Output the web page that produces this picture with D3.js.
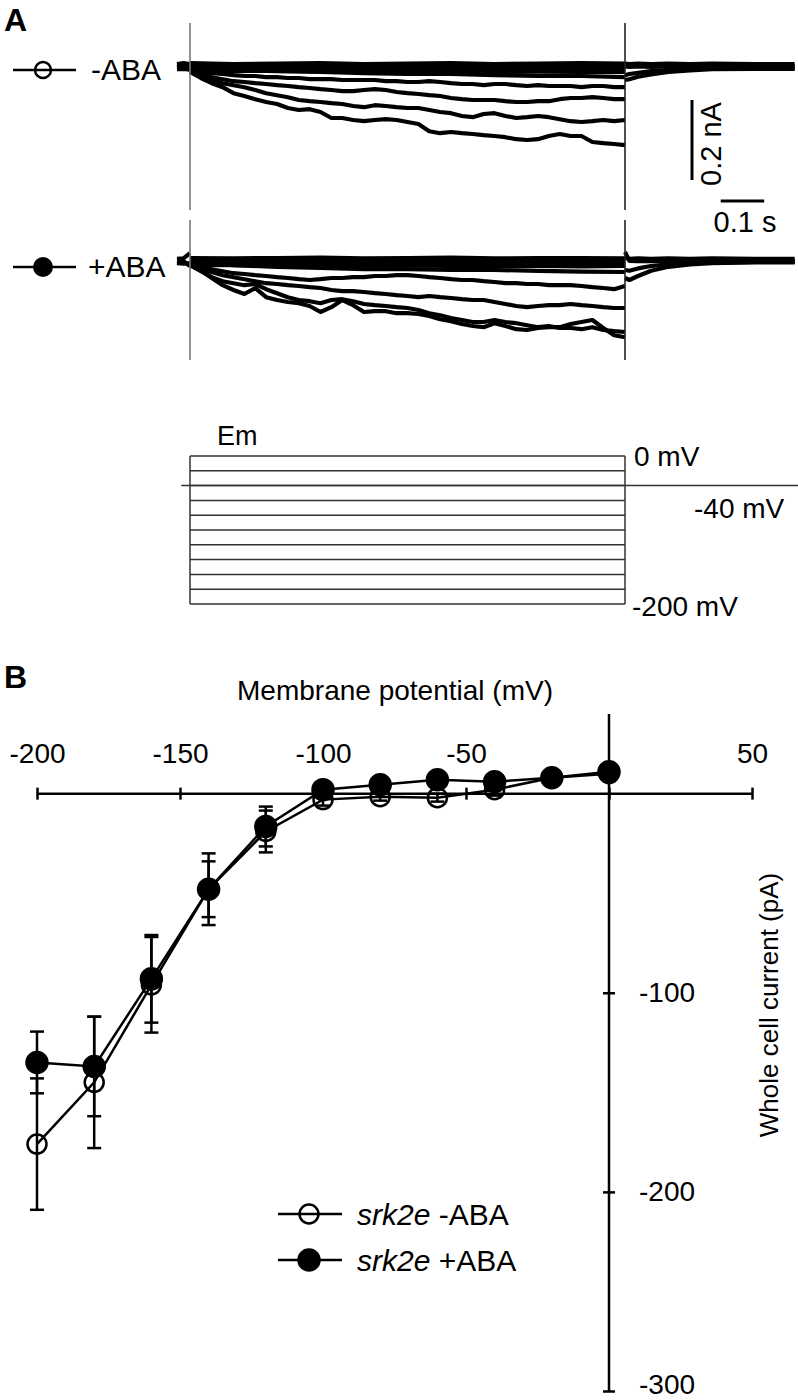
<!DOCTYPE html>
<html><head><meta charset="utf-8">
<script src="https://cdn.jsdelivr.net/npm/d3@7"></script>
<style>
body{margin:0;background:#fff}
svg text{font-family:"Liberation Sans", Arial, Helvetica, sans-serif;fill:#000}
</style>
</head><body>
<svg id="chart" width="798" height="1400"></svg>
<script>
// ---------- Panel A: current traces (pA), sampled evenly over the 1 s pulse ----------
const minusTraces = [
  [-10,-25,-38,-48,-63,-70,-78,-85,-90,-100,-105,-103,-110,-125,-125,-130,-133,-130,-128,-130,-135,-140,-158,-163,-160,-163,-165,-168,-170,-173,-178,-180,-178,-170,-165,-170,-170,-185,-188,-190,-193],
  [-8,-18,-30,-38,-43,-48,-55,-63,-68,-73,-80,-83,-85,-88,-90,-95,-98,-93,-95,-98,-100,-100,-105,-110,-113,-120,-123,-115,-113,-120,-125,-123,-120,-123,-128,-133,-135,-133,-130,-133,-130],
  [-5,-13,-23,-28,-33,-35,-38,-40,-43,-45,-48,-50,-53,-55,-58,-58,-55,-53,-55,-60,-63,-65,-68,-70,-75,-78,-80,-80,-80,-83,-85,-85,-83,-83,-78,-75,-75,-73,-75,-78,-78],
  [-3,-8,-13,-15,-18,-20,-20,-23,-23,-25,-25,-28,-28,-28,-30,-30,-30,-30,-33,-33,-35,-35,-33,-35,-38,-40,-40,-43,-40,-40,-43,-45,-43,-45,-45,-45,-48,-45,-45,-48,-48],
  [0,-5,-8,-10,-13,-15,-15,-18,-20,-20,-23],
  [12,10,11,12,10,11,12,10,11,12,11],
  [5,4,6,5,4,5,6,4,5,5,4],
  [-1,-2,-1,-3,-2,-1,-2,-3,-2,-1,-2],
  [-6,-8,-7,-8,-9,-8,-9,-10,-9,-10,-10]
];
const plusTraces = [
  [-8,-20,-40,-58,-70,-80,-65,-88,-95,-100,-103,-110,-125,-113,-95,-108,-125,-123,-123,-128,-128,-130,-135,-143,-148,-155,-160,-163,-153,-160,-168,-170,-165,-163,-163,-155,-150,-145,-165,-183,-188],
  [-8,-23,-38,-48,-53,-58,-55,-68,-78,-88,-95,-98,-103,-95,-93,-98,-105,-108,-110,-113,-115,-120,-128,-133,-140,-145,-150,-150,-145,-150,-153,-158,-163,-160,-165,-165,-168,-163,-170,-173,-175],
  [-5,-15,-25,-33,-38,-43,-48,-53,-55,-58,-60,-63,-65,-70,-73,-73,-75,-78,-80,-83,-85,-88,-85,-88,-90,-93,-95,-95,-100,-105,-110,-113,-110,-108,-108,-105,-108,-110,-113,-115,-115],
  [-3,-10,-18,-23,-28,-30,-33,-35,-38,-40,-43,-45,-43,-40,-40,-38,-38,-35,-35,-33,-33,-35,-38,-40,-43,-45,-45,-48,-50,-53,-53,-55,-55,-58,-58,-58,-60,-63,-65,-68,-60],
  [0,-8,-12,-15,-18,-18,-20,-20,-22,-24,-25],
  [10,9,10,11,9,10,11,9,10,10,9],
  [4,3,5,4,3,4,5,3,4,4,3],
  [-2,-3,-2,-4,-3,-2,-3,-4,-3,-2,-3],
  [-7,-8,-9,-8,-10,-9,-10,-11,-10,-11,-10]
];
// holding current before (preT) and after (postT) the pulse, s
const preT = [-0.03, -0.015, 0];
const postT = [1.0, 1.01, 1.03, 1.06, 1.1, 1.15, 1.2, 1.3, 1.39];
const minusPre = [[10,12,10],[3,5,3],[-3,-2,-4]];
const minusPost = [
  [-30,-28,-22,-16,-10,-6,-3,-2,-2],
  [-18,-15,-12,-8,-5,-3,-1,0,0],
  [4,3,4,3,4,3,4,3,4],
  [11,10,11,10,11,10,11,10,10]
];
const plusPre = [[8,9,22],[3,2,-10],[-3,-4,-3]];
const plusPost = [
  [-40,-45,-35,-22,-12,-6,-3,-1,-1],
  [-20,-22,-16,-10,-6,-3,-1,0,0],
  [25,3,2,3,2,3,2,3,3],
  [10,8,9,8,9,8,9,8,8]
];
// voltage protocol (mV)
const stepVoltages = [0,-20,-40,-60,-80,-100,-120,-140,-160,-180,-200];
const holdingVoltage = -40;
const protocolLabels = ["0 mV", "-40 mV", "-200 mV"];

// ---------- Panel B: I-V data ----------
const voltages = [-200,-180,-160,-140,-120,-100,-80,-60,-40,-20,0];
const minusABA = [-176,-145,-96,-48,-19,-3,-1.5,-2,2,8,10];
const minusABAErr = [33,33,24,14,10.5,3,2,2,3,2,2];
const plusABA = [-135,-137,-93,-48,-16.5,2,4.5,7,6,8,11];
const plusABAErr = [15.5,25,22,18,10,2,2,2,2,2,2];
const xTicks = [-200,-150,-100,-50,0,50];
const xTickLabels = ["-200","-150","-100","-50","","50"];
const yTicks = [-100,-200,-300];
const yTickLabels = ["-100","-200","-300"];

const svg = d3.select("#chart");
const FONT = "Liberation Sans, Arial, sans-serif";

// ===== Panel A =====
const tScale = d3.scaleLinear().domain([0,1]).range([190,625]);
const iTop = d3.scaleLinear().domain([0,-200]).range([68,148]);
const iBot = d3.scaleLinear().domain([0,-200]).range([262,342]);

svg.append("text").attr("x",4).attr("y",31).attr("font-size",32).attr("font-weight","bold").text("A");

function drawTraces(traces, pre, post, yS){
  const g = svg.append("g").attr("fill","none").attr("stroke","#000").attr("stroke-width",4.2).attr("stroke-linejoin","round");
  const pulseLine = d3.line().x((d,i,a)=>tScale(i/(a.length-1))).y(d=>yS(d));
  traces.forEach(tr=>g.append("path").attr("d",pulseLine(tr)));
  const preLine = d3.line().x((d,i)=>tScale(preT[i])).y(d=>yS(d));
  pre.forEach(tr=>g.append("path").attr("d",preLine(tr)));
  const postLine = d3.line().x((d,i)=>tScale(postT[i])).y(d=>yS(d));
  post.forEach(tr=>g.append("path").attr("d",postLine(tr)));
}
drawTraces(minusTraces, minusPre, minusPost, iTop);
drawTraces(plusTraces, plusPre, plusPost, iBot);

// pulse on/off markers
[[23,210],[220,360]].forEach(([y1,y2])=>{
  svg.append("line").attr("x1",tScale(0)).attr("x2",tScale(0)).attr("y1",y1).attr("y2",y2).attr("stroke","#777").attr("stroke-width",1.6);
  svg.append("line").attr("x1",tScale(1)).attr("x2",tScale(1)).attr("y1",y1).attr("y2",y2).attr("stroke","#222").attr("stroke-width",1.6);
});

// legend keys A
svg.append("line").attr("x1",13).attr("x2",76).attr("y1",70).attr("y2",70).attr("stroke","#000").attr("stroke-width",2.5);
svg.append("circle").attr("cx",43).attr("cy",70).attr("r",8).attr("fill","none").attr("stroke","#000").attr("stroke-width",2.5);
svg.append("text").attr("x",91).attr("y",80).attr("font-size",30).text("-ABA");
svg.append("line").attr("x1",13).attr("x2",76).attr("y1",267).attr("y2",267).attr("stroke","#000").attr("stroke-width",2.5);
svg.append("circle").attr("cx",43).attr("cy",267).attr("r",10).attr("fill","#000");
svg.append("text").attr("x",88).attr("y",277).attr("font-size",30).text("+ABA");

// scale bars
svg.append("line").attr("x1",692).attr("x2",692).attr("y1",iTop(-80)).attr("y2",iTop(-280)).attr("stroke","#000").attr("stroke-width",3);
svg.append("text").attr("transform","translate(721,144) rotate(-90)").attr("text-anchor","middle").attr("font-size",29).text("0.2 nA");
svg.append("line").attr("x1",tScale(1.22)).attr("x2",tScale(1.32)).attr("y1",201).attr("y2",201).attr("stroke","#000").attr("stroke-width",3);
svg.append("text").attr("x",745).attr("y",232).attr("text-anchor","middle").attr("font-size",29).text("0.1 s");

// voltage protocol
const vScale = d3.scaleLinear().domain([0,-200]).range([456,604]);
const pg = svg.append("g").attr("stroke","#333").attr("stroke-width",1.5).attr("fill","none");
stepVoltages.forEach(v=>pg.append("line").attr("x1",tScale(0)).attr("x2",tScale(1)).attr("y1",vScale(v)).attr("y2",vScale(v)));
pg.append("line").attr("x1",tScale(0)).attr("x2",tScale(0)).attr("y1",vScale(0)).attr("y2",vScale(-200));
pg.append("line").attr("x1",tScale(1)).attr("x2",tScale(1)).attr("y1",vScale(0)).attr("y2",vScale(-200));
pg.append("line").attr("x1",tScale(-0.02)).attr("x2",798).attr("y1",vScale(holdingVoltage)).attr("y2",vScale(holdingVoltage));
svg.append("text").attr("x",217).attr("y",445).attr("font-size",27).text("Em");
svg.append("text").attr("x",634).attr("y",vScale(0)+10).attr("font-size",28).text(protocolLabels[0]);
svg.append("text").attr("x",694).attr("y",vScale(holdingVoltage)+32).attr("font-size",28).text(protocolLabels[1]);
svg.append("text").attr("x",632).attr("y",vScale(-200)+12).attr("font-size",28).text(protocolLabels[2]);

// ===== Panel B =====
svg.append("text").attr("x",4).attr("y",688).attr("font-size",32).attr("font-weight","bold").text("B");
const xB = d3.scaleLinear().domain([-200,50]).range([37,752]);
const yB = d3.scaleLinear().domain([-300,40]).range([1391,714]);

const xAxis = d3.axisTop(xB).tickValues(xTicks).tickSize(6).tickFormat((d,i)=>xTickLabels[i]);
const gx = svg.append("g").attr("transform",`translate(0,${yB(0)})`).call(xAxis);
gx.select(".domain").remove();
gx.selectAll(".tick line").attr("y1",-6).attr("y2",6).attr("stroke","#000").attr("stroke-width",2.5);
gx.selectAll(".tick text").attr("y",-31).attr("font-size",28).attr("font-family",FONT).attr("fill","#000");
svg.append("line").attr("x1",xB(-200)).attr("x2",xB(50)).attr("y1",yB(0)).attr("y2",yB(0)).attr("stroke","#000").attr("stroke-width",2.5);

const yAxis = d3.axisRight(yB).tickValues(yTicks).tickSize(6).tickFormat((d,i)=>yTickLabels[i]);
const gy = svg.append("g").attr("transform",`translate(${xB(0)},0)`).call(yAxis);
gy.select(".domain").remove();
gy.selectAll(".tick line").attr("x1",-6).attr("x2",6).attr("stroke","#000").attr("stroke-width",2.5);
gy.selectAll(".tick text").attr("x",30).attr("font-size",28).attr("font-family",FONT).attr("fill","#000")
  .attr("dy",(d)=>d===-300?"0.1em":"0.32em");
svg.append("line").attr("x1",xB(0)).attr("x2",xB(0)).attr("y1",yB(40)).attr("y2",yB(-300)).attr("stroke","#000").attr("stroke-width",2.5);

svg.append("text").attr("x",395).attr("y",700).attr("text-anchor","middle").attr("font-size",28).text("Membrane potential (mV)");
svg.append("text").attr("transform","translate(778,1005) rotate(-90)").attr("text-anchor","middle").attr("font-size",26).text("Whole cell current (pA)");

function drawSeries(vals, errs, filled){
  const g = svg.append("g");
  const line = d3.line().x((d,i)=>xB(voltages[i])).y(d=>yB(d));
  g.append("path").attr("d",line(vals)).attr("fill","none").attr("stroke","#000").attr("stroke-width",2.5);
  vals.forEach((v,i)=>{
    const x = xB(voltages[i]);
    g.append("line").attr("x1",x).attr("x2",x).attr("y1",yB(v+errs[i])).attr("y2",yB(v-errs[i])).attr("stroke","#000").attr("stroke-width",2.5);
    [v+errs[i], v-errs[i]].forEach(e=>g.append("line").attr("x1",x-7).attr("x2",x+7).attr("y1",yB(e)).attr("y2",yB(e)).attr("stroke","#000").attr("stroke-width",2.5));
  });
  vals.forEach((v,i)=>{
    g.append("circle").attr("cx",xB(voltages[i])).attr("cy",yB(v)).attr("r",filled?10.5:9.5)
      .attr("fill",filled?"#000":"none").attr("stroke","#000").attr("stroke-width",2.5);
  });
}
drawSeries(minusABA, minusABAErr, false);
drawSeries(plusABA, plusABAErr, true);

// legend B
const legend = [{y:1214, filled:false, label:" -ABA"},{y:1260, filled:true, label:" +ABA"}];
legend.forEach(l=>{
  svg.append("line").attr("x1",278).attr("x2",342).attr("y1",l.y).attr("y2",l.y).attr("stroke","#000").attr("stroke-width",2.5);
  svg.append("circle").attr("cx",309).attr("cy",l.y).attr("r",l.filled?10.5:9.5).attr("fill",l.filled?"#000":"none").attr("stroke","#000").attr("stroke-width",2.5);
  const t = svg.append("text").attr("x",357).attr("y",l.y+11).attr("font-size",30);
  t.append("tspan").attr("font-style","italic").text("srk2e");
  t.append("tspan").text(l.label);
});
</script>
</body></html>
